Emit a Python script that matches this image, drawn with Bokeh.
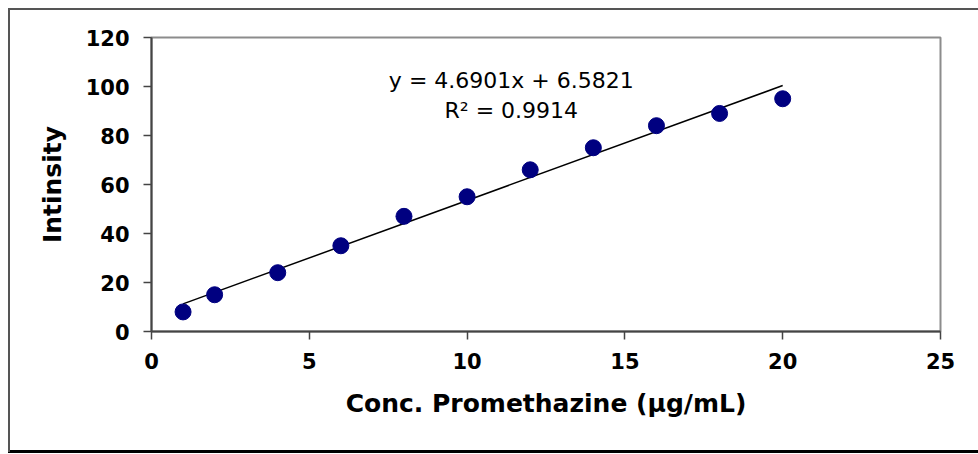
from bokeh.plotting import figure
from bokeh.embed import file_html
from bokeh.resources import INLINE
from bokeh.models import Range1d, FixedTicker
from bokeh.core.properties import value

conc = [1, 2, 4, 6, 8, 10, 12, 14, 16, 18, 20]
intensity = [8, 15, 24, 35, 47, 55, 66, 75, 84, 89, 95]
slope = 4.6901
intercept = 6.5821
eq_lines = ["y = 4.6901x + 6.5821", "R\u00b2 = 0.9914"]
x_ticks = [0, 5, 10, 15, 20, 25]
y_ticks = [0, 20, 40, 60, 80, 100, 120]

FONT = "DejaVu Sans"

p = figure(width=978, height=454, output_backend="svg", toolbar_location=None,
           x_range=Range1d(0, 25), y_range=Range1d(0, 120),
           min_border_left=151, min_border_right=38, min_border_top=37, min_border_bottom=123)
p.styles = {
    "background": (
        "linear-gradient(#555555,#555555) 8px 8px / 2px 444px no-repeat, "
        "linear-gradient(#555555,#555555) 8px 8px / 970px 2px no-repeat, "
        "linear-gradient(#000000,#000000) 8px 450px / 970px 3px no-repeat, "
        "white"
    )
}
p.xgrid.visible = False
p.ygrid.visible = False
p.outline_line_color = "#8c8c8c"
p.outline_line_width = 2
p.background_fill_color = "white"
p.border_fill_color = None

for ax in (p.xaxis[0], p.yaxis[0]):
    ax.axis_line_color = "#444444"
    ax.axis_line_width = 2
    ax.major_tick_line_color = "#444444"
    ax.major_tick_line_width = 1.5
    ax.major_tick_out = 8
    ax.major_tick_in = 0
    ax.minor_tick_line_color = None
    ax.major_label_text_font = FONT
    ax.major_label_text_font_style = "bold"
    ax.major_label_text_font_size = "21px"
    ax.major_label_text_color = "black"
    ax.axis_label_text_font = FONT
    ax.axis_label_text_font_style = "bold"
    ax.axis_label_text_font_size = "25px"
    ax.axis_label_text_color = "black"

p.xaxis.ticker = FixedTicker(ticks=x_ticks)
p.yaxis.ticker = FixedTicker(ticks=y_ticks)
p.xaxis.major_label_standoff = 13
p.yaxis.major_label_standoff = 14
p.xaxis.axis_label = "Conc. Promethazine (\u00b5g/mL)"
p.yaxis.axis_label = "Intinsity"
p.xaxis.axis_label_standoff = 17
p.yaxis.axis_label_standoff = 16

xs = [conc[0], conc[-1]]
ys = [slope * v + intercept for v in xs]
p.line(xs, ys, line_color="black", line_width=1.5)

p.scatter(conc, intensity, size=16, fill_color="#000080", line_color="#000080")

p.text(x=[11.4, 11.4], y=[102.4, 90.2], text=eq_lines, text_align="center", text_baseline="middle",
       text_font=value(FONT), text_font_size="22px", text_color="black")

open("out.html", "w").write(file_html(p, INLINE))
